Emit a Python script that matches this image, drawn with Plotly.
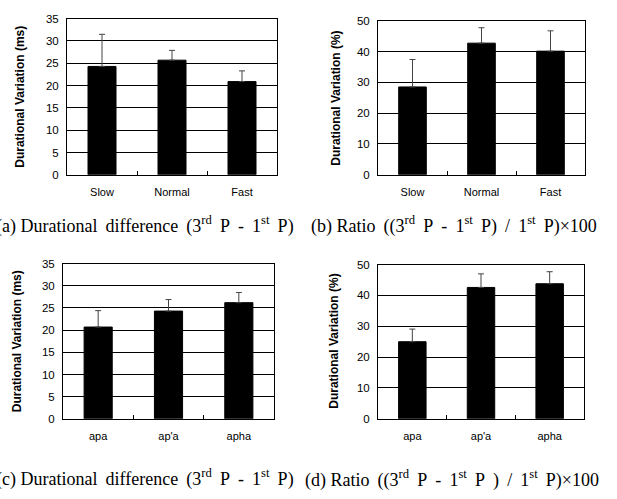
import plotly.graph_objects as go

W, H = 617, 499

speed_cats = ["Slow", "Normal", "Fast"]
cons_cats = ["apa", "ap'a", "apha"]

a_vals = [24.3, 25.7, 20.9]
a_err = [7.2, 2.2, 2.4]
b_vals = [28.5, 42.7, 40.1]
b_err = [8.9, 5.0, 6.6]
c_vals = [20.7, 24.3, 26.2]
c_err = [3.7, 2.6, 2.3]
d_vals = [25.0, 42.6, 43.8]
d_err = [4.1, 4.4, 3.9]

y_ms_ticks = [0, 5, 10, 15, 20, 25, 30, 35]
y_pct_ticks = [0, 10, 20, 30, 40, 50]

ytitle_ms = "Durational Variation (ms)"
ytitle_pct = "Durational Variation (%)"

S = "\u00a0\u2009"
captions = [
    f"(a) Durational{S}difference{S}(3<sup>rd</sup>{S}P{S}-{S}1<sup>st</sup>{S}P)",
    f"(b) Ratio{S}((3<sup>rd</sup>{S}P{S}-{S}1<sup>st</sup>{S}P){S}/{S}1<sup>st</sup>{S}P)×100",
    f"(c) Durational{S}difference{S}(3<sup>rd</sup>{S}P{S}-{S}1<sup>st</sup>{S}P)",
    f"(d) Ratio{S}((3<sup>rd</sup>{S}P{S}-{S}1<sup>st</sup>{S}P{S}){S}/{S}1<sup>st</sup>{S}P)×100",
]

# panel geometry in pixels: (x0, x1, ytop, ybottom)
panels = [
    dict(cats=speed_cats, vals=a_vals, err=a_err, ticks=y_ms_ticks, ymax=35, title=ytitle_ms,
         box=(67, 277, 13, 173), title_x=20, cap=captions[0], cap_x=145, cap_y=224),
    dict(cats=speed_cats, vals=b_vals, err=b_err, ticks=y_pct_ticks, ymax=50, title=ytitle_pct,
         box=(378, 585, 15, 173), title_x=336, cap=captions[1], cap_x=454, cap_y=224),
    dict(cats=cons_cats, vals=c_vals, err=c_err, ticks=y_ms_ticks, ymax=35, title=ytitle_ms,
         box=(63, 274, 264, 423), title_x=17, cap=captions[2], cap_x=145, cap_y=484),
    dict(cats=cons_cats, vals=d_vals, err=d_err, ticks=y_pct_ticks, ymax=50, title=ytitle_pct,
         box=(378, 584, 265, 423), title_x=334, cap=captions[3], cap_x=452, cap_y=485),
]

fig = go.Figure()
annotations = []
for i, p in enumerate(panels, start=1):
    xa = "x" if i == 1 else f"x{i}"
    ya = "y" if i == 1 else f"y{i}"
    fig.add_trace(go.Bar(
        x=p["cats"], y=p["vals"], xaxis=xa, yaxis=ya,
        marker=dict(color="black", line=dict(color="black", width=1)),
        error_y=dict(type="data", symmetric=False, array=p["err"], arrayminus=[0] * len(p["err"]),
                     color="#444444", thickness=1, width=3),
        showlegend=False,
    ))
    x0, x1, yt, yb = p["box"]
    xkey = "xaxis" if i == 1 else f"xaxis{i}"
    ykey = "yaxis" if i == 1 else f"yaxis{i}"
    fig.layout[xkey] = dict(
        domain=[x0 / W, x1 / W], anchor=ya, type="category",
        showline=True, linecolor="black", linewidth=1, mirror=True,
        ticks="inside", tickson="boundaries", ticklen=4, tickcolor="black",
        showgrid=False, tickfont=dict(family="Liberation Sans, Arial", size=11, color="black"),
        ticklabelstandoff=7, fixedrange=True,
    )
    fig.layout[ykey] = dict(
        domain=[1 - yb / H, 1 - yt / H], anchor=xa, range=[0, p["ymax"]],
        tickvals=p["ticks"], showline=True, linecolor="black", linewidth=1, mirror=True,
        showgrid=True, gridcolor="black", gridwidth=1, zeroline=False,
        ticks="", tickfont=dict(family="Liberation Sans, Arial", size=11.5, color="black"),
        ticklabelstandoff=5, fixedrange=True,
    )
    annotations.append(dict(
        text=f"<b>{p['title']}</b>", x=p["title_x"] / W, y=1 - ((yt + yb) / 2) / H,
        xref="paper", yref="paper", showarrow=False, textangle=-90,
        font=dict(family="Liberation Sans, Arial", size=12, color="black"),
        xanchor="center", yanchor="middle",
    ))
    annotations.append(dict(
        text=p["cap"], x=p["cap_x"] / W, y=1 - p["cap_y"] / H,
        xref="paper", yref="paper", showarrow=False,
        font=dict(family="Liberation Serif, Times New Roman", size=18, color="black"),
        xanchor="center", yanchor="middle",
    ))

fig.update_layout(
    width=W, height=H, margin=dict(l=0, r=0, t=0, b=0),
    paper_bgcolor="white", plot_bgcolor="white",
    bargap=0.6, annotations=annotations,
)

fig.write_html("out.html", config={"displayModeBar": False},
               post_script="document.body.style.margin='0';")
